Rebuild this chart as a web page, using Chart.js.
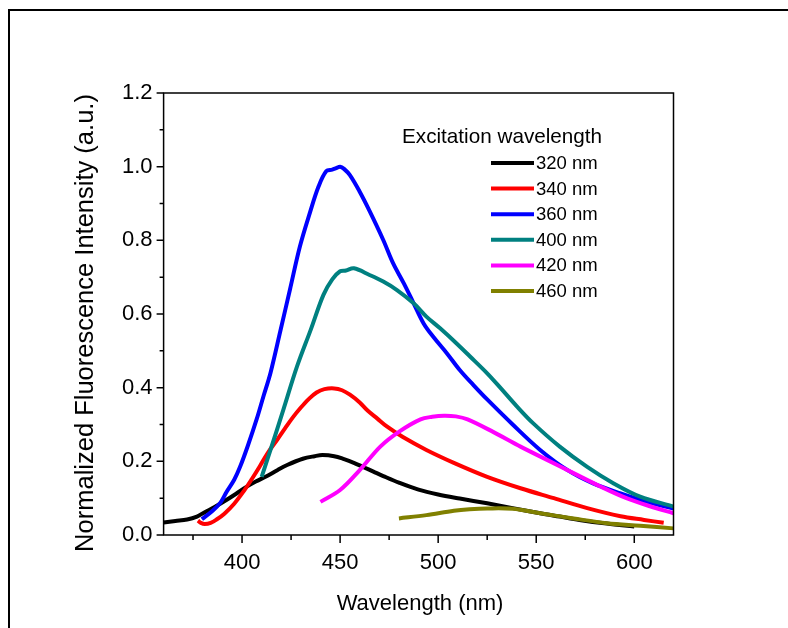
<!DOCTYPE html>
<html lang="en">
<head>
    <meta charset="UTF-8">
    <title>Normalized Fluorescence Intensity</title>
    <style>
        body {
            margin: 0;
            padding: 0;
            background-color: #fff;
        }
        #chartBox {
            width: 788px;
            height: 628px;
        }
    </style>
    <script src="https://cdn.jsdelivr.net/npm/chart.js"></script>
</head>
<body>
    <div id="chartBox">
        <canvas id="flChart" width="788" height="628"></canvas>
    </div>

    <script>
        // emission spectra, one pair of arrays per excitation wavelength
        const seriesNames = ['320 nm', '340 nm', '360 nm', '400 nm', '420 nm', '460 nm'];
        const seriesColors = ['#000000', '#ff0000', '#0000ff', '#008080', '#ff00ff', '#808000'];

        const wl320 = [360, 366, 372, 377, 381, 386, 392, 397, 402, 407, 413, 418, 423, 431, 437, 441, 447, 452, 457, 462, 467, 472, 480, 490, 500, 511, 525, 538, 552, 562, 572, 586, 600];
        const int320 = [0.034, 0.038, 0.042, 0.050, 0.062, 0.076, 0.095, 0.112, 0.130, 0.145, 0.161, 0.176, 0.190, 0.207, 0.214, 0.217, 0.214, 0.206, 0.196, 0.184, 0.172, 0.160, 0.142, 0.123, 0.110, 0.099, 0.086, 0.073, 0.059, 0.050, 0.041, 0.031, 0.023];

        const wl340 = [377.5, 379, 381, 384, 387, 391, 396, 401, 405, 409, 413, 418, 422, 426, 430, 434, 438, 442, 447, 451, 455, 460, 464, 469, 474, 482, 494, 508, 525, 542, 559, 576, 593, 605, 615];
        const int340 = [0.039, 0.033, 0.030, 0.033, 0.042, 0.058, 0.085, 0.120, 0.152, 0.186, 0.222, 0.259, 0.290, 0.320, 0.346, 0.369, 0.387, 0.396, 0.398, 0.393, 0.381, 0.360, 0.338, 0.316, 0.294, 0.266, 0.231, 0.196, 0.158, 0.127, 0.100, 0.073, 0.051, 0.041, 0.033];

        const wl360 = [379.5, 385, 389, 392, 396, 399, 403, 407.5, 411, 414.5, 419.5, 424.5, 429.5, 434.5, 439, 443, 446, 448, 450, 452, 455, 460, 465, 472, 477, 482.5, 487.5, 492.5, 497.5, 504.5, 511, 518, 525, 538, 552, 566, 579, 593, 606.5, 620];
        const int360 = [0.043, 0.066, 0.088, 0.116, 0.150, 0.185, 0.243, 0.315, 0.378, 0.440, 0.553, 0.668, 0.783, 0.873, 0.946, 0.988, 0.992, 0.996, 1.000, 0.994, 0.977, 0.932, 0.880, 0.801, 0.738, 0.683, 0.629, 0.575, 0.538, 0.493, 0.448, 0.407, 0.368, 0.300, 0.231, 0.176, 0.140, 0.113, 0.090, 0.072];

        const wl400 = [410, 414.5, 421, 428, 435, 441.5, 446, 450, 453, 457, 465, 472, 479, 487.5, 494, 501, 509, 516, 525, 532, 540, 548.5, 562, 576, 589.5, 603, 620];
        const int400 = [0.158, 0.231, 0.339, 0.457, 0.557, 0.652, 0.694, 0.716, 0.718, 0.724, 0.706, 0.688, 0.665, 0.629, 0.593, 0.561, 0.522, 0.486, 0.439, 0.398, 0.350, 0.303, 0.240, 0.185, 0.140, 0.104, 0.077];

        const wl420 = [440, 450, 460, 470.5, 480.5, 491, 497, 503, 509, 515, 528, 542, 555.5, 569, 583, 596, 608, 620];
        const int420 = [0.090, 0.122, 0.176, 0.240, 0.282, 0.314, 0.321, 0.324, 0.322, 0.314, 0.280, 0.240, 0.204, 0.168, 0.131, 0.100, 0.078, 0.059];

        const wl460 = [480, 494, 508, 516, 525, 538, 552, 569, 586, 603, 620];
        const int460 = [0.045, 0.054, 0.066, 0.070, 0.072, 0.071, 0.059, 0.045, 0.032, 0.025, 0.018];

        const xTicks = [400, 450, 500, 550, 600];
        const xMinor = [375, 425, 475, 525, 575];
        const yMinor = [0.1, 0.3, 0.5, 0.7, 0.9, 1.1];

        const allX = [wl320, wl340, wl360, wl400, wl420, wl460];
        const allY = [int320, int340, int360, int400, int420, int460];

        const fontFamily = "'Liberation Sans', Arial, sans-serif";

        // frame, tick marks, axis titles and legend
        const decorPlugin = {
            id: 'decor',
            afterDraw(chart) {
                const c = chart.ctx;
                const area = chart.chartArea;
                const xs = chart.scales.x;
                const ys = chart.scales.y;
                c.save();

                // outer border of the figure (top and left only visible)
                c.strokeStyle = '#000';
                c.lineWidth = 2;
                c.beginPath();
                c.moveTo(9, 628);
                c.lineTo(9, 10);
                c.lineTo(788, 10);
                c.stroke();

                // plot box
                c.lineWidth = 1.5;
                c.strokeRect(area.left, area.top, area.right - area.left, area.bottom - area.top);

                // tick marks pointing outward
                c.beginPath();
                xTicks.forEach(v => {
                    const px = xs.getPixelForValue(v);
                    c.moveTo(px, area.bottom);
                    c.lineTo(px, area.bottom + 8);
                });
                xMinor.forEach(v => {
                    const px = xs.getPixelForValue(v);
                    c.moveTo(px, area.bottom);
                    c.lineTo(px, area.bottom + 5);
                });
                for (let i = 0; i <= 6; i++) {
                    const py = ys.getPixelForValue(i * 0.2);
                    c.moveTo(area.left, py);
                    c.lineTo(area.left - 7, py);
                }
                yMinor.forEach(v => {
                    const py = ys.getPixelForValue(v);
                    c.moveTo(area.left, py);
                    c.lineTo(area.left - 4, py);
                });
                c.stroke();

                // axis titles
                c.fillStyle = '#000';
                c.font = '22px ' + fontFamily;
                c.textAlign = 'center';
                c.textBaseline = 'middle';
                c.fillText('Wavelength (nm)', 420, 604);

                c.save();
                c.translate(86, 323);
                c.rotate(-Math.PI / 2);
                c.font = '25.5px ' + fontFamily;
                c.fillText('Normalized Fluorescence Intensity (a.u.)', 0, 0);
                c.restore();

                // legend
                c.textAlign = 'left';
                c.font = '20.7px ' + fontFamily;
                c.fillText('Excitation wavelength', 402, 137);
                c.font = '18.5px ' + fontFamily;
                seriesNames.forEach((name, i) => {
                    const y = 163 + i * 25.6;
                    c.strokeStyle = seriesColors[i];
                    c.lineWidth = 4;
                    c.beginPath();
                    c.moveTo(491, y);
                    c.lineTo(534, y);
                    c.stroke();
                    c.fillText(name, 536, y + 1);
                });

                c.restore();
            }
        };

        const ctx = document.getElementById('flChart').getContext('2d');
        const flChart = new Chart(ctx, {
            type: 'line',
            data: {
                datasets: seriesNames.map((name, i) => ({
                    label: name,
                    data: allX[i].map((x, k) => ({ x: x, y: allY[i][k] })),
                    borderColor: seriesColors[i],
                    backgroundColor: seriesColors[i],
                    borderWidth: 4,
                    pointRadius: 0,
                    tension: 0.35,
                    order: 5 - i,
                    fill: false
                }))
            },
            options: {
                responsive: false,
                animation: false,
                layout: {
                    padding: { left: 0, top: 93, right: 114.5, bottom: 0 }
                },
                plugins: {
                    legend: { display: false },
                    tooltip: { enabled: false }
                },
                scales: {
                    x: {
                        type: 'linear',
                        min: 360,
                        max: 620,
                        afterBuildTicks: scale => {
                            scale.ticks = xTicks.map(v => ({ value: v }));
                        },
                        afterFit: scale => { scale.height = 93; },
                        grid: { display: false, drawTicks: false },
                        border: { display: false },
                        ticks: {
                            autoSkip: false,
                            maxRotation: 0,
                            padding: 15,
                            color: '#000',
                            font: { family: fontFamily, size: 22 }
                        }
                    },
                    y: {
                        min: 0,
                        max: 1.2,
                        afterFit: scale => { scale.width = 163.6; },
                        grid: { display: false, drawTicks: false },
                        border: { display: false },
                        ticks: {
                            stepSize: 0.2,
                            padding: 11,
                            color: '#000',
                            font: { family: fontFamily, size: 22 },
                            callback: v => v.toFixed(1)
                        }
                    }
                }
            },
            plugins: [decorPlugin]
        });
    </script>
</body>
</html>
